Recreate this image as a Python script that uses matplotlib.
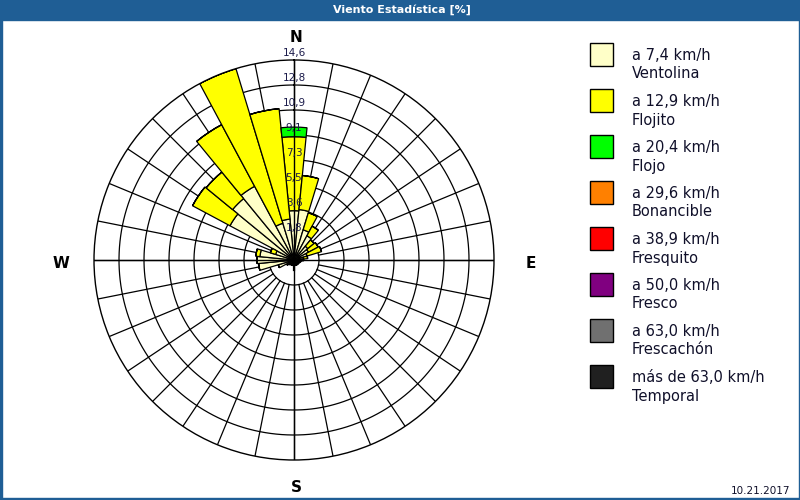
import numpy as np
import matplotlib
matplotlib.use("Agg")
from matplotlib import pyplot as plt
from matplotlib.patches import Rectangle

# 32 directions, clockwise from north
directions = np.arange(32) * 11.25

# percentages per speed class (stacked segments)
ventolina = [3.6, 3.7, 2.3, 2.0, 1.3, 1.2, 1.0, 0.7,
             0.6, 0.5, 0.45, 0.4, 0.4, 0.4, 0.4, 0.4,
             0.45, 0.4, 0.4, 0.4, 0.45, 0.6, 1.2, 2.6,
             2.7, 2.5, 1.4, 5.3, 5.8, 6.1, 2.8, 3.0]
flojito = [5.4, 2.5, 1.3, 0.8, 0.6, 0.8, 1.1, 0.3,
           0.1, 0.0, 0.0, 0.0, 0.0, 0.0, 0.0, 0.0,
           0.0, 0.0, 0.0, 0.0, 0.0, 0.0, 0.0, 0.0,
           0.0, 0.3, 0.4, 3.1, 2.5, 5.1, 11.8, 8.1]
flojo = [0.7] + [0.0] * 31

ring_labels = ["1,8", "3,6", "5,5", "7,3", "9,1", "10,9", "12,8", "14,6"]
r_max = 14.6

legend_speeds = ["a 7,4 km/h", "a 12,9 km/h", "a 20,4 km/h", "a 29,6 km/h",
                 "a 38,9 km/h", "a 50,0 km/h", "a 63,0 km/h", "más de 63,0 km/h"]
legend_names = ["Ventolina", "Flojito", "Flojo", "Bonancible",
                "Fresquito", "Fresco", "Frescachón", "Temporal"]
legend_colors = ["#ffffc8", "#ffff00", "#00ff00", "#ff8000",
                 "#ff0000", "#800080", "#707070", "#202020"]

W, H = 800, 500


def fx(x):
    return x / W


def fy(y):
    return 1 - y / H


def main():
    fig = plt.figure(figsize=(8, 5), dpi=100)
    fig.patch.set_facecolor("white")

    # title bar and frame
    blue = "#1f5e95"
    fig.add_artist(Rectangle((0, fy(20)), 1, 20 / H, transform=fig.transFigure,
                             color=blue, zorder=0))
    fig.add_artist(Rectangle((0, 0), 1.5 / W, 1, transform=fig.transFigure, color=blue))
    fig.add_artist(Rectangle((1 - 1.5 / W, 0), 1.5 / W, 1, transform=fig.transFigure, color=blue))
    fig.add_artist(Rectangle((0, 0), 1, 2.5 / H, transform=fig.transFigure, color=blue))
    fig.text(fx(402), fy(10), "Viento Estadística [%]", color="white",
             fontsize=8, fontweight="bold", ha="center", va="center",
             family=["Liberation Sans Narrow", "DejaVu Sans"])

    cx, cy, R = 294, 260, 200
    ax = fig.add_axes([fx(cx - R), fy(cy + R), 2 * R / W, 2 * R / H], projection="polar")
    ax.set_theta_zero_location("N")
    ax.set_theta_direction(-1)
    ax.set_ylim(0, r_max)
    ax.grid(False)
    ax.set_xticks([])
    ax.set_yticks([])
    ax.spines["polar"].set_linewidth(1.0)
    ax.spines["polar"].set_color("black")

    step = r_max / 8
    t = np.linspace(0, 2 * np.pi, 400)
    for k in range(1, 8):
        ax.plot(t, np.full_like(t, k * step), color="black", lw=0.9, zorder=1)
    for a in directions:
        th = np.deg2rad(a)
        ax.plot([th, th], [step, r_max], color="black", lw=0.9, zorder=1)

    theta = np.deg2rad(directions)
    width = 2 * np.pi / 32
    v = np.array(ventolina)
    f1 = np.array(flojito)
    f2 = np.array(flojo)
    ax.bar(theta, v, width=width, bottom=0, color=legend_colors[0],
           edgecolor="black", linewidth=0.9, zorder=2)
    ax.bar(theta, f1, width=width, bottom=v, color=legend_colors[1],
           edgecolor="black", linewidth=0.9, zorder=2)
    ax.bar(theta, f2, width=width, bottom=v + f1, color=legend_colors[2],
           edgecolor="black", linewidth=0.9, zorder=2)

    # compass axes drawn over the bars
    for th in [0, np.pi / 2, np.pi, 3 * np.pi / 2]:
        ax.plot([th, th], [0, r_max], color="black", lw=1.0, zorder=3)
    ax.plot([np.pi, np.pi], [0, 0.7], color="black", lw=1.6, zorder=3)

    for k, lab in enumerate(ring_labels, start=1):
        ax.text(0, k * step + 0.5, lab, ha="center", va="center",
                fontsize=7.5, color="#1a1a4a", zorder=4)

    for lab, (x, y) in zip(["N", "E", "S", "W"],
                           [(296, 37), (531, 264), (296, 488), (61, 264)]):
        fig.text(fx(x), fy(y), lab, ha="center", va="center",
                 fontsize=11, fontweight="bold", color="black")

    # legend
    for i, (sp, nm, col) in enumerate(zip(legend_speeds, legend_names, legend_colors)):
        y0 = 43 + 46 * i
        fig.add_artist(Rectangle((fx(590), fy(y0 + 23)), 23 / W, 23 / H,
                                 transform=fig.transFigure, facecolor=col,
                                 edgecolor="black", linewidth=1.0))
        fig.text(fx(632), fy(y0 + 13), sp, ha="left", va="center",
                 fontsize=10.5, color="#10102a")
        fig.text(fx(632), fy(y0 + 31), nm, ha="left", va="center",
                 fontsize=10.5, color="#10102a")

    fig.text(fx(790), fy(491), "10.21.2017", ha="right", va="center",
             fontsize=7.5, color="#10102a")

    fig.savefig("out.png", dpi=100, facecolor="white")


if __name__ == "__main__":
    main()
